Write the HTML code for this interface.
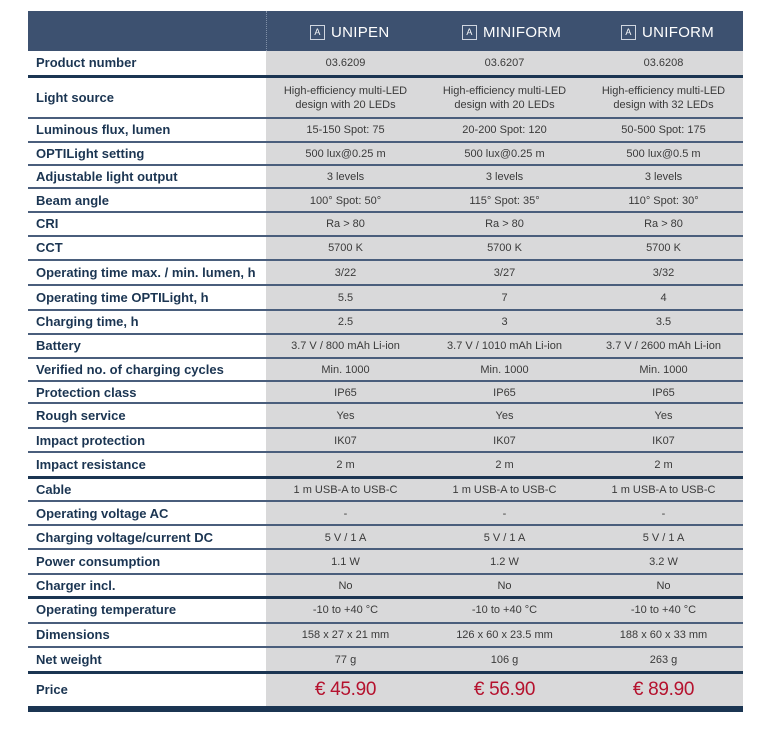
<!DOCTYPE html>
<html><head><meta charset="utf-8"><style>
body{margin:0;width:764px;height:752px;background:#fff;position:relative;overflow:hidden;font-family:"Liberation Sans",sans-serif}
.hd{position:absolute;left:28px;top:11px;width:715px;height:40px;background:#3d5170}
.hd .sep{position:absolute;left:238px;top:0;height:40px;border-left:1px dotted #8090a8}
.hn{position:absolute;top:13px;color:#fff;font-size:15px;letter-spacing:0.3px}
.hn b{display:inline-block;width:13px;height:13px;border:1px solid #d0d6e0;font-size:9px;font-weight:normal;text-align:center;line-height:13px;margin-right:6px;vertical-align:2px}
.gray{position:absolute;left:266px;top:51px;width:477px;height:656px;background:#d9d9da}
.r{position:absolute;left:28px;width:715px;border-top:2px solid #4a5e7c}
.r.t{border-top:3px solid #1b3552}
.r span{position:absolute;top:0;bottom:0;display:flex;align-items:center;justify-content:center;text-align:center;font-size:11px;color:#3a3a3a;line-height:14px}
.r .l{left:8px;justify-content:flex-start;font-size:13px;color:#1b3552;font-weight:bold;letter-spacing:0}
.r .a{left:238px;width:159px}.r .b{left:397px;width:159px}.r .c{left:556px;width:159px}
.p{color:#b5122e!important;font-size:19px!important;letter-spacing:-0.3px}
.bot{position:absolute;left:28px;top:706px;width:715px;height:6px;background:#1b3552}
</style></head><body>
<div class="hd"><div class="sep"></div>
<div class="hn" style="left:282px"><b>A</b>UNIPEN</div>
<div class="hn" style="left:434px"><b>A</b>MINIFORM</div>
<div class="hn" style="left:593px"><b>A</b>UNIFORM</div></div>
<div class="gray"></div>
<div class="r" style="top:51px;height:24px;border-top:none"><span class="l">Product number</span><span class="a">03.6209</span><span class="b">03.6207</span><span class="c">03.6208</span></div>
<div class="r t" style="top:75px;height:40px"><span class="l">Light source</span><span class="a">High-efficiency multi-LED<br>design with 20 LEDs</span><span class="b">High-efficiency multi-LED<br>design with 20 LEDs</span><span class="c">High-efficiency multi-LED<br>design with 32 LEDs</span></div>
<div class="r" style="top:117px;height:22px"><span class="l">Luminous flux, lumen</span><span class="a">15-150 Spot: 75</span><span class="b">20-200 Spot: 120</span><span class="c">50-500 Spot: 175</span></div>
<div class="r" style="top:141px;height:22px"><span class="l">OPTILight setting</span><span class="a">500 lux@0.25 m</span><span class="b">500 lux@0.25 m</span><span class="c">500 lux@0.5 m</span></div>
<div class="r" style="top:164px;height:22px"><span class="l">Adjustable light output</span><span class="a">3 levels</span><span class="b">3 levels</span><span class="c">3 levels</span></div>
<div class="r" style="top:187px;height:23px"><span class="l">Beam angle</span><span class="a">100° Spot: 50°</span><span class="b">115° Spot: 35°</span><span class="c">110° Spot: 30°</span></div>
<div class="r" style="top:211px;height:22px"><span class="l">CRI</span><span class="a">Ra &gt; 80</span><span class="b">Ra &gt; 80</span><span class="c">Ra &gt; 80</span></div>
<div class="r" style="top:235px;height:22px"><span class="l">CCT</span><span class="a">5700 K</span><span class="b">5700 K</span><span class="c">5700 K</span></div>
<div class="r" style="top:259px;height:23px"><span class="l">Operating time max. / min. lumen, h</span><span class="a">3/22</span><span class="b">3/27</span><span class="c">3/32</span></div>
<div class="r" style="top:284px;height:23px"><span class="l">Operating time OPTILight, h</span><span class="a">5.5</span><span class="b">7</span><span class="c">4</span></div>
<div class="r" style="top:309px;height:22px"><span class="l">Charging time, h</span><span class="a">2.5</span><span class="b">3</span><span class="c">3.5</span></div>
<div class="r" style="top:333px;height:22px"><span class="l">Battery</span><span class="a">3.7 V / 800 mAh Li-ion</span><span class="b">3.7 V / 1010 mAh Li-ion</span><span class="c">3.7 V / 2600 mAh Li-ion</span></div>
<div class="r" style="top:357px;height:21px"><span class="l">Verified no. of charging cycles</span><span class="a">Min. 1000</span><span class="b">Min. 1000</span><span class="c">Min. 1000</span></div>
<div class="r" style="top:380px;height:21px"><span class="l">Protection class</span><span class="a">IP65</span><span class="b">IP65</span><span class="c">IP65</span></div>
<div class="r" style="top:402px;height:23px"><span class="l">Rough service</span><span class="a">Yes</span><span class="b">Yes</span><span class="c">Yes</span></div>
<div class="r" style="top:427px;height:23px"><span class="l">Impact protection</span><span class="a">IK07</span><span class="b">IK07</span><span class="c">IK07</span></div>
<div class="r" style="top:451px;height:23px"><span class="l">Impact resistance</span><span class="a">2 m</span><span class="b">2 m</span><span class="c">2 m</span></div>
<div class="r t" style="top:476px;height:21px"><span class="l">Cable</span><span class="a">1 m USB-A to USB-C</span><span class="b">1 m USB-A to USB-C</span><span class="c">1 m USB-A to USB-C</span></div>
<div class="r" style="top:500px;height:23px"><span class="l">Operating voltage AC</span><span class="a">-</span><span class="b">-</span><span class="c">-</span></div>
<div class="r" style="top:524px;height:23px"><span class="l">Charging voltage/current DC</span><span class="a">5 V / 1 A</span><span class="b">5 V / 1 A</span><span class="c">5 V / 1 A</span></div>
<div class="r" style="top:548px;height:23px"><span class="l">Power consumption</span><span class="a">1.1 W</span><span class="b">1.2 W</span><span class="c">3.2 W</span></div>
<div class="r" style="top:573px;height:22px"><span class="l">Charger incl.</span><span class="a">No</span><span class="b">No</span><span class="c">No</span></div>
<div class="r t" style="top:596px;height:22px"><span class="l">Operating temperature</span><span class="a">-10 to +40 °C</span><span class="b">-10 to +40 °C</span><span class="c">-10 to +40 °C</span></div>
<div class="r" style="top:622px;height:22px"><span class="l">Dimensions</span><span class="a">158 x 27 x 21 mm</span><span class="b">126 x 60 x 23.5 mm</span><span class="c">188 x 60 x 33 mm</span></div>
<div class="r" style="top:646px;height:24px"><span class="l">Net weight</span><span class="a">77 g</span><span class="b">106 g</span><span class="c">263 g</span></div>
<div class="r t" style="top:671px;height:32px"><span class="l">Price</span><span class="a p">€ 45.90</span><span class="b p">€ 56.90</span><span class="c p">€ 89.90</span></div>
<div class="bot"></div>
</body></html>
